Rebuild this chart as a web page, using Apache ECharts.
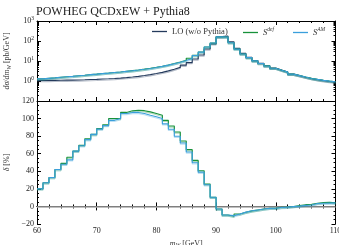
<!DOCTYPE html>
<html><head><meta charset="utf-8">
<script src="https://cdn.jsdelivr.net/npm/echarts@6/dist/echarts.min.js"></script>
<style>html,body{margin:0;padding:0;background:#fff}#c{width:339px;height:245px}</style>
</head><body><div id="c"></div>
<script>
// bin lower edges (GeV), each bin 1 GeV wide, last edge 110
const binLow = [60,61,62,63,64,65,66,67,68,69,70,71,72,73,74,75,76,77,78,79,80,81,82,83,84,85,86,87,88,89,90,91,92,93,94,95,96,97,98,99,100,101,102,103,104,105,106,107,108,109];
const lastEdge = 110;
// dσ/dm [pb/GeV]
const loVals = [1.07,1.07,1.08,1.09,1.10,1.11,1.13,1.15,1.18,1.21,1.25,1.29,1.34,1.40,1.48,1.58,1.70,1.87,2.08,2.35,2.7,3.2,3.9,4.8,6.2,8.3,12.5,20,40,72,165,175,92,43,24,15.5,10.5,7.7,5.8,4.4,3.5,2.8,2.2,1.85,1.55,1.32,1.16,1.04,0.95,0.88];
const sdefVals = [1.28,1.36,1.44,1.55,1.64,1.73,1.84,1.95,2.09,2.20,2.36,2.49,2.68,2.80,3.06,3.30,3.56,3.91,4.32,4.83,5.50,6.34,7.47,8.87,10.8,13.7,19.1,28.1,50.2,79.6,160,158,81.7,39.3,22.4,14.7,10.1,7.48,5.68,4.31,3.47,2.78,2.20,1.87,1.58,1.35,1.20,1.09,1.00,0.92];
const samVals = [1.28,1.36,1.44,1.55,1.63,1.70,1.84,1.94,2.08,2.20,2.35,2.48,2.65,2.80,3.04,3.27,3.52,3.85,4.24,4.75,5.40,6.21,7.32,8.63,10.7,13.4,18.7,27.8,49.8,79.6,160,158,82.3,39.3,22.4,14.7,10.1,7.47,5.67,4.31,3.46,2.78,2.20,1.86,1.57,1.34,1.20,1.08,0.99,0.92];
// δ [%]
const deltaDef = [20,27,33,42,49,56,63,69.5,77,82,88.6,93,100,100,107,108.8,109.5,109,107.6,105.7,103.8,98,91.6,84.8,74.5,64.6,52.4,40.6,25.4,10.5,-2.9,-9.7,-11.2,-8.6,-6.7,-5.1,-4,-2.9,-2.1,-2,-1,-0.6,0,1,2,2.5,3.6,4.4,4.8,4];
const deltaAM  = [20,27,33,42,48,53,63,69,76,82,88,92,98,100,105.7,107,107,105.7,103.8,102,100,94,87.8,79.8,72.2,62,49.7,39,24.6,10.5,-2.9,-9.7,-10.5,-8.6,-6.5,-5,-4,-3,-2.2,-2,-1.2,-0.8,-0.2,0.3,1.2,1.6,3.4,3.6,3.8,4];
const logMinorTicks = [0.2,0.3,0.4,0.5,0.6,0.7,0.8,0.9,2,3,4,5,6,7,8,9,20,30,40,50,60,70,80,90,200,300,400,500,600,700,800,900];
const seriesNames = ['LO (w/o Pythia)','Sdef','SAM'];

const cLO = '#243a5c', cDef = '#17913a', cAM = '#3a9fdc';
const serif = 'Liberation Serif';

function steps(vals){
  const d = binLow.map((x,i)=>[x, vals[i]]);
  d.push([lastEdge, vals[vals.length-1]]);
  return d;
}
const axisLine = {show:true, lineStyle:{color:'#000', width:1}};
function xAx(grid, pos, labels){
  return {type:'value', gridIndex:grid, position:pos, min:60, max:110, interval:10,
    axisLine, axisTick:{show:true, inside:true, length:4, lineStyle:{color:'#000'}},
    minorTick:{show:true, splitNumber:5, length:2, lineStyle:{color:'#000'}},
    splitLine:{show:false}, minorSplitLine:{show:false},
    axisLabel:{show:labels, color:'#222', fontFamily:serif, fontSize:8, margin:3}};
}
function yLog(pos, labels, minor){
  return {type:'log', logBase:10, gridIndex:0, position:pos, min:0.1, max:1000,
    axisLine: minor? {show:false} : axisLine,
    axisTick: minor ? {show:true, inside:true, length:2, customValues:logMinorTicks, lineStyle:{color:'#000'}}
                    : {show:true, inside:true, length:4, lineStyle:{color:'#000'}},
    splitLine:{show:false},
    axisLabel:{show:labels, margin:3, color:'#222', fontFamily:serif, fontSize:8,
      formatter: v => v>=1 ? '10{sup|'+Math.round(Math.log10(v))+'}' : '',
      rich:{sup:{fontSize:5.5, fontFamily:serif, color:'#222', verticalAlign:'top', padding:[0,0,5,0]}}},
    name: labels ? '{i|dσ/dm}{sub|W} [pb/GeV]' : '', nameLocation:'middle', nameGap:19,
    nameTextStyle:{fontFamily:serif, fontSize:8, color:'#333',
      rich:{i:{fontStyle:'italic', fontFamily:serif, fontSize:8, color:'#333'}, sub:{fontStyle:'italic', fontFamily:serif, fontSize:5.5, color:'#333', padding:[4,0,0,0]}}}
  };
}
function yLin(pos, labels){
  return {type:'value', gridIndex:1, position:pos, min:-20, max:120, interval:20,
    axisLine, axisTick:{show:true, inside:true, length:4, lineStyle:{color:'#000'}},
    minorTick:{show:true, splitNumber:4, length:2, lineStyle:{color:'#000'}},
    splitLine:{show:false},
    axisLabel:{show:labels, margin:3, color:'#222', fontFamily:serif, fontSize:8,
      formatter: v => v<0 ? '\u2212'+(-v) : ''+v},
    name: labels ? '{i|δ} [%]' : '', nameLocation:'middle', nameGap:19,
    nameTextStyle:{fontFamily:serif, fontSize:8, color:'#333', rich:{i:{fontStyle:'italic', fontFamily:serif, fontSize:8, color:'#333'}}}
  };
}
function line(name, data, color, xi, yi, z){
  return {name, type:'line', step:'end', data, xAxisIndex:xi, yAxisIndex:yi, symbol:'none', z,
    color, lineStyle:{color, width:1.1, shadowColor:color+'55', shadowBlur:0, shadowOffsetY:1.2},
    animation:false, silent:true};
}
const legendRich = {
  it:{fontStyle:'italic', fontFamily:serif, fontSize:8.5, color:'#333'},
  sup:{fontStyle:'italic', fontFamily:serif, fontSize:5.5, color:'#333', padding:[0,0,5,0]}
};
function leg(name, left, fmt){
  return {data:[name], left, top:27, padding:0, icon:'rect', itemWidth:15, itemHeight:1.3, itemGap:0,
    textStyle:{fontFamily:serif, fontSize:8.5, color:'#333', rich:legendRich}, formatter: fmt, selectedMode:false};
}

const chart = echarts.init(document.getElementById('c'), null, {renderer:'canvas'});
const xDef = xAx(1,'bottom',true);
xDef.name = '{i|m}{sub|W} [GeV]';
xDef.nameLocation = 'middle'; xDef.nameGap = 15;
xDef.nameTextStyle = {fontFamily:serif, fontSize:8, color:'#333',
  rich:{i:{fontStyle:'italic', fontFamily:serif, fontSize:8, color:'#333'}, sub:{fontStyle:'italic', fontFamily:serif, fontSize:5.5, color:'#333', padding:[4,0,0,0]}}};
chart.setOption({
  animation:false,
  title:{text:'POWHEG QCDxEW + Pythia8', left:36, top:6, padding:0, textStyle:{fontFamily:serif, fontSize:12, fontWeight:'normal', color:'#222'}},
  legend:[
    leg(seriesNames[0], 152, n=>n),
    leg(seriesNames[1], 243, n=>'{it|S}{sup|def}'),
    leg(seriesNames[2], 293, n=>'{it|S}{sup|AM}')
  ],
  grid:[{left:37, top:21, width:298.5, height:80, outerBoundsMode:'none', containLabel:false},
        {left:37, top:101, width:298.5, height:123, outerBoundsMode:'none', containLabel:false}],
  xAxis:[xAx(0,'bottom',false), xAx(0,'top',false), xDef, xAx(1,'top',false)],
  yAxis:[yLog('left',true,false), yLog('right',false,false), yLog('left',false,true), yLog('right',false,true), yLin('left',true), yLin('right',false)],
  series:[
    line(seriesNames[0], steps(loVals), cLO, 0, 0, 3),
    line(seriesNames[1], steps(sdefVals), cDef, 0, 0, 4),
    line(seriesNames[2], steps(samVals), cAM, 0, 0, 5),
    Object.assign(line(seriesNames[1], steps(deltaDef), cDef, 2, 4, 4), {
      markLine:{silent:true, symbol:'none', label:{show:false}, lineStyle:{color:'#aaaaaa', width:1.5, type:'solid', shadowBlur:0, shadowOffsetY:0}, data:[{yAxis:0}], z:1}}),
    line(seriesNames[2], steps(deltaAM), cAM, 2, 4, 5)
  ]
});
</script></body></html>
